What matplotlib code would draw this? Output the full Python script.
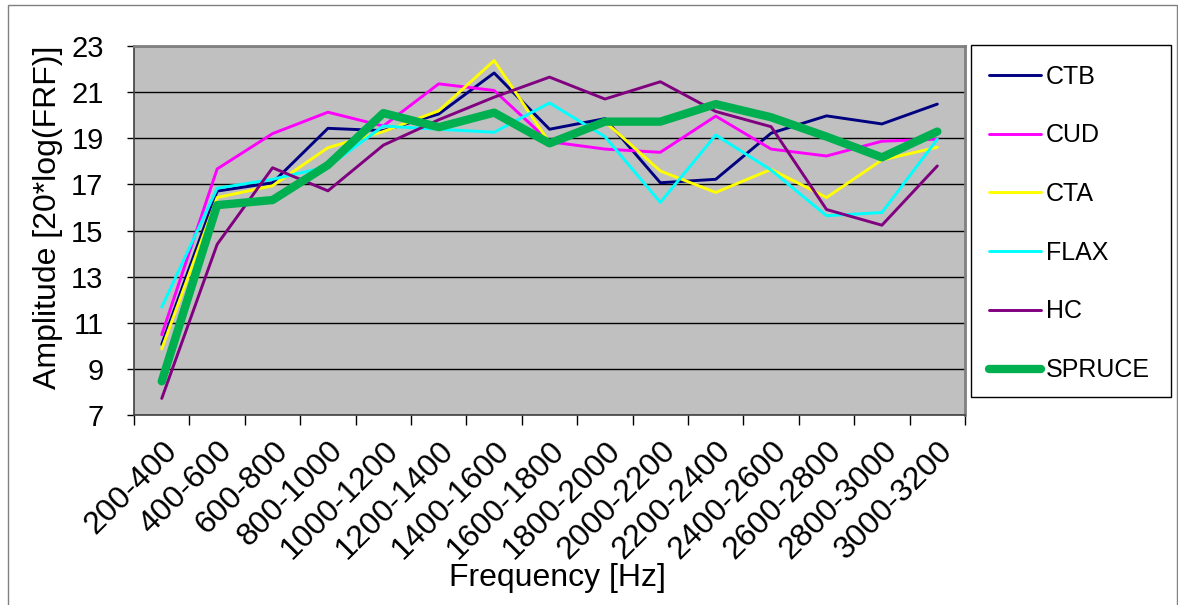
import numpy as np
import matplotlib.pyplot as plt
from matplotlib.patches import Rectangle
from matplotlib.transforms import ScaledTranslation

plt.rcParams['font.family'] = ['Liberation Sans', 'DejaVu Sans']

# frequency bands (Hz)
bands = ['200-400', '400-600', '600-800', '800-1000', '1000-1200', '1200-1400',
         '1400-1600', '1600-1800', '1800-2000', '2000-2200', '2200-2400',
         '2400-2600', '2600-2800', '2800-3000', '3000-3200']

# amplitude, 20*log(FRF)
ctb    = [10.06, 16.71, 17.07, 19.43, 19.33, 20.05, 21.83, 19.39, 19.85, 17.07, 17.22, 19.22, 19.97, 19.62, 20.48]
cud    = [10.48, 17.67, 19.20, 20.13, 19.53, 21.36, 21.07, 18.85, 18.53, 18.39, 19.96, 18.53, 18.23, 18.87, 18.96]
cta    = [9.87, 16.43, 16.94, 18.59, 19.29, 20.19, 22.37, 18.80, 19.72, 17.58, 16.65, 17.65, 16.43, 18.06, 18.61]
flax   = [11.68, 16.83, 17.22, 17.77, 19.53, 19.39, 19.26, 20.53, 19.07, 16.22, 19.14, 17.62, 15.64, 15.78, 18.96]
hc     = [7.72, 14.40, 17.72, 16.72, 18.70, 19.80, 20.78, 21.65, 20.70, 21.45, 20.16, 19.50, 15.91, 15.23, 17.80]
spruce = [8.46, 16.10, 16.32, 17.84, 20.09, 19.48, 20.11, 18.78, 19.72, 19.72, 20.48, 19.91, 19.07, 18.17, 19.29]

series = [('CTB', ctb, '#000080', 2.1),
          ('CUD', cud, '#FF00FF', 2.1),
          ('CTA', cta, '#FFFF00', 2.1),
          ('FLAX', flax, '#00FFFF', 2.1),
          ('HC', hc, '#800080', 2.1),
          ('SPRUCE', spruce, '#00B050', 6.0)]

fig = plt.figure(figsize=(11.78, 6.05), dpi=100)
fig.patches.append(Rectangle((8 / 1178, -0.1), 1169 / 1178, 1.1 - 5 / 605,
                             transform=fig.transFigure, fill=False,
                             edgecolor='#808080', lw=1))

ax = fig.add_axes([0.1138, 0.314, 0.7054, 0.610])
ax.set_facecolor('#C0C0C0')

x = np.arange(len(bands))
for name, vals, col, lw in series:
    ax.plot(x, vals, color=col, lw=lw, label=name, solid_capstyle='round')

ax.set_xlim(-0.5, len(bands) - 0.5)
ax.set_ylim(7, 23)
ax.set_yticks(np.arange(7, 24, 2))
ax.yaxis.grid(True, color='black', lw=1)
ax.set_axisbelow(True)

ax.set_xticks(x)
ax.set_xticklabels(bands, rotation=45, ha='right', rotation_mode='anchor', fontsize=23)
shift = ScaledTranslation(0.05, 0, fig.dpi_scale_trans)
for lab in ax.get_xticklabels():
    lab.set_transform(lab.get_transform() + shift)
ax.set_xticks(np.arange(-0.5, len(bands)), minor=True)
ax.tick_params(axis='x', which='major', length=0, pad=15)
ax.tick_params(axis='x', which='minor', length=7, width=1, direction='out')
ax.tick_params(axis='y', length=5, width=1, labelsize=21, pad=17)

for s in ['top', 'right']:
    ax.spines[s].set_color('#808080')
    ax.spines[s].set_linewidth(2)
for s in ['left', 'bottom']:
    ax.spines[s].set_color('#404040')
    ax.spines[s].set_linewidth(1.2)

ax.set_xlabel('Frequency [Hz]', fontsize=23)
ax.xaxis.set_label_coords(0.51, -0.40)
ax.set_ylabel('Amplitude [20*log(FRF)]', fontsize=23)
ax.yaxis.set_label_coords(-0.0854, 0.535)

# legend box
fig.patches.append(Rectangle((971 / 1178, 1 - 397 / 605), 200 / 1178, 352 / 605,
                             transform=fig.transFigure, fill=False,
                             edgecolor='black', lw=1))
fig.legend(loc='upper left', bbox_to_anchor=(976 / 1178, 1 - 52 / 605),
           frameon=False, fontsize=18, handlelength=2.1, handletextpad=0.2,
           labelspacing=1.39, borderpad=0)

fig.savefig('out.png', dpi=100)
